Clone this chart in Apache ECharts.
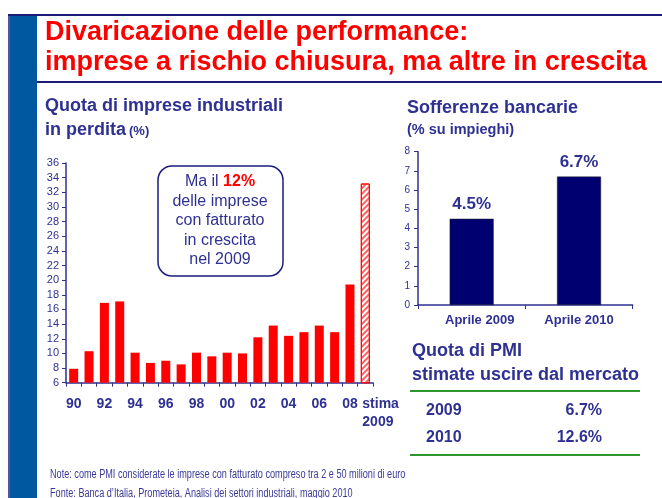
<!DOCTYPE html>
<html>
<head>
<meta charset="utf-8">
<script src="https://cdn.jsdelivr.net/npm/echarts@6/dist/echarts.min.js"></script>
<style>
html, body { margin: 0; padding: 0; background: #fff; }
#chart { width: 662px; height: 498px; }
</style>
</head>
<body>
<div id="chart"></div>
<script>
// quota di imprese industriali in perdita (%)
const years = ['90', '91', '92', '93', '94', '95', '96', '97', '98', '99',
  '00', '01', '02', '03', '04', '05', '06', '07', '08', 'stima\n2009'];
const lossShare = [7.9, 10.3, 16.9, 17.1, 10.1, 8.7, 9.0, 8.5, 10.1, 9.6,
  10.1, 10.0, 12.2, 13.8, 12.4, 12.9, 13.8, 12.9, 19.4, 33.2];
const lossAxis = [6, 36, 2];

// sofferenze bancarie (% su impieghi)
const nplDates = ['Aprile 2009', 'Aprile 2010'];
const nplValues = [4.5, 6.7];
const nplAxis = [0, 8, 1];

// quota di PMI stimate uscire dal mercato
const pmiYears = ['2009', '2010'];
const pmiExit = ['6.7%', '12.6%'];

const navy = '#2E3192';
const font = '"Liberation Sans", Arial, sans-serif';

let chart = echarts.init(document.getElementById('chart'));

let lossData = lossShare.map((v, i) => {
  if (i < lossShare.length - 1) return v;
  // ultimo valore: stima, tratteggiato
  return {
    value: v,
    itemStyle: {
      color: '#fff',
      borderColor: '#ff0000',
      borderWidth: 1,
      decal: {
        symbol: 'rect',
        symbolSize: 1,
        color: '#ff6060',
        dashArrayX: [1, 0],
        dashArrayY: [2, 2],
        rotation: -Math.PI / 4
      }
    }
  };
});

let catData = years.map((y, i) => {
  if (i < years.length - 1) return y;
  return { value: y, textStyle: { align: 'left', padding: [0, 0, 0, -3] } };
});

let nplCats = nplDates.map((d, i) => i === 0 ? { value: d, textStyle: { padding: [0, 0, 0, 16] } } : d);

let texts = [];
function txt(x, y, text, size, color, opts, el) {
  texts.push(Object.assign({
    type: 'text',
    x: x,
    y: y,
    z: 10,
    style: Object.assign({
      text: text,
      fill: color,
      font: 'bold ' + size + 'px ' + font,
      textAlign: 'left',
      textVerticalAlign: 'middle'
    }, opts || {})
  }, el || {}));
}

// titolo
txt(45, 33, 'Divaricazione delle performance:', 27, '#ff0000');
txt(45, 63, 'imprese a rischio chiusura, ma altre in crescita', 27, '#ff0000');

// titoli dei grafici
txt(45, 106, 'Quota di imprese industriali', 18, navy);
txt(45, 130, 'in perdita', 18, navy);
txt(129, 131, '(%)', 13, navy);
txt(407, 108, 'Sofferenze bancarie', 18, navy);
txt(407, 130, '(% su impieghi)', 14.5, navy);

// riquadro
txt(220, 182, 'Ma il {r|12%}', 16, navy, {
  font: '16px ' + font, textAlign: 'center',
  rich: { r: { fill: '#ff0000', fontWeight: 'bold', fontSize: 16, fontFamily: font } }
});
['delle imprese', 'con fatturato', 'in crescita', 'nel 2009'].forEach((s, i) => {
  txt(220, 201.5 + i * 19.5, s, 16, navy, { font: '16px ' + font, textAlign: 'center' });
});

// tabella PMI
txt(412, 351, 'Quota di PMI', 18, navy);
txt(412, 375, 'stimate uscire dal mercato', 18, navy);
pmiYears.forEach((y, i) => {
  txt(426, 411 + i * 27, y, 16, navy);
  txt(602, 411 + i * 27, pmiExit[i], 16, navy, { textAlign: 'right' });
});

// note (carattere stretto)
txt(50, 475, 'Note: come PMI considerate le imprese con fatturato compreso tra 2 e 50 milioni di euro', 12, '#3a3a99', { font: '12px ' + font }, { scaleX: 0.76 });
txt(50, 494, 'Fonte: Banca d\u2019Italia, Prometeia, Analisi dei settori industriali, maggio 2010', 12, '#3a3a99', { font: '12px ' + font }, { scaleX: 0.76 });

let option = {
  animation: false,
  textStyle: { fontFamily: font },
  graphic: [
    // cornice e banda laterale
    { type: 'rect', shape: { x: 10, y: 16, width: 27, height: 490 }, style: { fill: '#0058A0' } },
    { type: 'line', shape: { x1: 8, y1: 15, x2: 662, y2: 15 }, style: { stroke: '#1c1c7a', lineWidth: 2 } },
    { type: 'line', shape: { x1: 9, y1: 15, x2: 9, y2: 498 }, style: { stroke: '#1c1c7a', lineWidth: 1.5 } },
    { type: 'line', shape: { x1: 37, y1: 82, x2: 662, y2: 82 }, style: { stroke: '#1c1c7a', lineWidth: 2 } },
    // riquadro annotazione
    { type: 'rect', shape: { x: 158, y: 166, width: 125, height: 110, r: 14 }, style: { fill: '#fff', stroke: '#1c1c7a', lineWidth: 1.5 } },
    // linee tabella
    { type: 'line', shape: { x1: 410, y1: 391, x2: 640, y2: 391 }, style: { stroke: '#2e962e', lineWidth: 2 } },
    { type: 'line', shape: { x1: 410, y1: 455, x2: 640, y2: 455 }, style: { stroke: '#2e962e', lineWidth: 2 } }
  ].concat(texts),
  grid: [
    { left: 66, top: 163, width: 307, height: 219.7 },
    { left: 418, top: 151.7, width: 214.7, height: 153.3 }
  ],
  xAxis: [
    {
      type: 'category',
      gridIndex: 0,
      data: catData,
      axisLine: { lineStyle: { color: navy, width: 1.5 } },
      axisTick: { show: true, interval: 0, length: 4, lineStyle: { color: navy } },
      axisLabel: {
        interval: (i) => i % 2 === 0 || i === years.length - 1,
        hideOverlap: false,
        color: navy,
        fontWeight: 'bold',
        fontSize: 14,
        margin: 12,
        lineHeight: 18,
        verticalAlign: 'top'
      }
    },
    {
      type: 'category',
      gridIndex: 1,
      data: nplCats,
      axisLine: { lineStyle: { color: navy, width: 1.5 } },
      axisTick: { show: true, length: 4, lineStyle: { color: navy } },
      axisLabel: { color: navy, fontWeight: 'bold', fontSize: 13, margin: 9 }
    }
  ],
  yAxis: [
    {
      type: 'value',
      gridIndex: 0,
      min: lossAxis[0],
      max: lossAxis[1],
      interval: lossAxis[2],
      splitLine: { show: false },
      axisLine: { show: true, lineStyle: { color: navy, width: 1.5 } },
      axisTick: { show: true, length: 4, lineStyle: { color: navy } },
      axisLabel: { color: navy, fontSize: 11, margin: 7 }
    },
    {
      type: 'value',
      gridIndex: 1,
      min: nplAxis[0],
      max: nplAxis[1],
      interval: nplAxis[2],
      splitLine: { show: false },
      axisLine: { show: true, lineStyle: { color: navy, width: 1.5 } },
      axisTick: { show: true, length: 4, lineStyle: { color: navy } },
      axisLabel: { color: navy, fontSize: 10, margin: 8 }
    }
  ],
  series: [
    {
      name: 'Imprese in perdita',
      type: 'bar',
      xAxisIndex: 0,
      yAxisIndex: 0,
      barWidth: 9,
      itemStyle: { color: '#ff0000' },
      data: lossData
    },
    {
      name: 'Sofferenze',
      type: 'bar',
      xAxisIndex: 1,
      yAxisIndex: 1,
      barWidth: 44,
      itemStyle: { color: '#000070', borderColor: '#222', borderWidth: 0.5 },
      label: {
        show: true,
        position: 'top',
        distance: 6,
        formatter: '{c}%',
        color: navy,
        fontWeight: 'bold',
        fontSize: 17
      },
      data: nplValues
    }
  ]
};

chart.setOption(option);
</script>
</body>
</html>
